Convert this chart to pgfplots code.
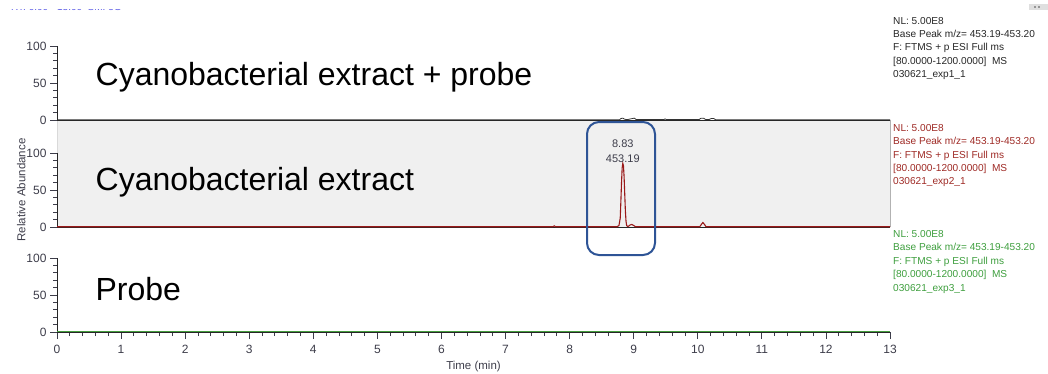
\documentclass[border=0pt]{standalone}
\usepackage{fontspec}
\setmainfont{Liberation Sans}
\usepackage{pgfplots}
\pgfplotsset{compat=1.18}

\definecolor{tickgray}{rgb}{0.24,0.24,0.29}
\definecolor{tracered}{rgb}{0.60,0.10,0.10}
\definecolor{tracegreen}{rgb}{0.27,0.62,0.24}
\definecolor{boxblue}{rgb}{0.18,0.33,0.59}
\definecolor{panelgray}{rgb}{0.941,0.941,0.941}
\definecolor{infored}{rgb}{0.62,0.16,0.14}
\definecolor{infogreen}{rgb}{0.24,0.62,0.24}
\definecolor{rtblue}{rgb}{0.35,0.35,0.90}

% one chromatogram panel: 13 min wide, 0-100 % tall
\pgfplotsset{
  chrom/.style={
    scale only axis, x=64.077pt, y=0.74pt,
    xmin=0, xmax=13, ymin=0, ymax=100,
    axis lines*=left, clip=false,
    anchor=south west,
    ytick={0,50,100}, minor y tick num=4,
    tick align=outside,
    major tick length=7pt, minor tick length=4pt,
    every tick/.style={tickgray, line width=0.8pt},
    axis line style={black!85, line width=0.9pt},
    tick label style={font=\fontsize{12}{12}\selectfont, text=tickgray},
    xticklabel style={yshift=-3pt},
    /pgf/number format/assume math mode=true,
    label style={font=\fontsize{11.5}{12}\selectfont, text=tickgray},
    xlabel style={yshift=-0.5pt},
    ylabel style={yshift=-6pt},
  }
}

% scan header printed at the right of each trace
\newcommand{\infoblock}[3]{%
  \begin{scope}[every node/.style={anchor=base west, inner sep=0pt, text=#1,
      font=\fontsize{10.1}{12}\selectfont}]
    \node at (893pt,#2pt) {NL: 5.00E8};
    \node at (893pt,#2pt-13.35pt) {Base Peak m/z= 453.19-453.20};
    \node at (893pt,#2pt-26.7pt) {F: FTMS + p ESI Full ms};
    \node at (893pt,#2pt-40.05pt) {[80.0000-1200.0000]\ \ MS};
    \node at (893pt,#2pt-53.4pt) {030621\_#3\_1};
  \end{scope}}

\begin{document}
\begin{tikzpicture}
\useasboundingbox (0,0) rectangle (1048pt,373pt);

% header line, mostly cut off at the top edge
\begin{scope}
  \clip (0pt,361.6pt) rectangle (200pt,363.4pt);
  \node[anchor=base west, inner sep=0pt, text=rtblue, font=\fontsize{10}{12}\selectfont]
    at (11pt,362pt) {RT: 0.00 - 13.00 \ SM: 5G};
\end{scope}
\fill[gray!25] (1029pt,363pt) rectangle (1048pt,369pt);
\fill[black!70] (1035pt,366pt) circle (0.8pt) (1039pt,366pt) circle (0.8pt);

% shaded panel behind the extract trace
\fill[panelgray] (57pt,146pt) rectangle (890pt,253pt);
\draw[gray!30, line width=0.8pt] (57pt,146pt) -- (57pt,253pt);
\draw[gray!60, line width=0.8pt] (890pt,146pt) -- (890pt,253pt);

% Probe
\begin{axis}[chrom, at={(57pt,41pt)},
    xtick={0,1,...,13}, minor x tick num=4,
    xlabel={Time (min)}]
  \addplot[tracegreen, line width=1.3pt] coordinates {(0,0.7) (13,0.7)};
  \node[anchor=base west, inner sep=0pt, font=\fontsize{32}{38}\selectfont]
    at (axis cs:0.60,42) {Probe};
\end{axis}

% Cyanobacterial extract
\begin{axis}[chrom, at={(57pt,146pt)}, xtick=\empty,
    ylabel={Relative Abundance}]
  \addplot[tracered, line width=1.1pt] coordinates {
    (0,0.3) (7.74,0.3) (7.76,1.5) (7.78,0.3)
    (8.74,0.3) (8.77,2) (8.79,12) (8.80,35) (8.81,60) (8.82,80)
    (8.83,86) (8.84,83) (8.85,68) (8.86,45) (8.87,22) (8.88,8)
    (8.89,2) (8.91,0.5) (8.94,2.5) (8.97,3.5) (9.00,2) (9.03,0.3)
    (10.03,0.3) (10.06,4) (10.08,6) (10.10,4) (10.13,0.3) (13,0.3)};
  \node[anchor=south, inner sep=0pt, align=center, text=tickgray,
        font=\fontsize{11}{15}\selectfont]
    at (axis cs:8.83,87) {8.83\\453.19};
  \node[anchor=base west, inner sep=0pt, font=\fontsize{32}{38}\selectfont]
    at (axis cs:0.60,49) {Cyanobacterial extract};
\end{axis}

% Cyanobacterial extract + probe
\begin{axis}[chrom, at={(57pt,253pt)}, xtick=\empty]
  \addplot[black!80, line width=0.8pt] coordinates {
    (0,0.3) (8.78,0.3) (8.80,2) (8.83,2.5) (8.86,1) (8.90,0.5)
    (8.98,2) (9.01,2.5) (9.04,0.5) (9.47,0.5) (9.49,1.5) (9.51,0.5)
    (10.02,0.5) (10.05,2.5) (10.09,2.5) (10.12,0.8) (10.18,0.8)
    (10.21,2) (10.25,2) (10.28,0.3) (13,0.3)};
  \node[anchor=base west, inner sep=0pt, font=\fontsize{32}{38}\selectfont]
    at (axis cs:0.60,46) {Cyanobacterial extract + probe};
\end{axis}

% scan headers
\infoblock{black!85}{348.7}{exp1}
\infoblock{infored}{241.7}{exp2}
\infoblock{infogreen}{135.4}{exp3}

% highlighted peak
\draw[boxblue, line width=2pt, rounded corners=12pt]
  (587pt,118pt) rectangle (655pt,251pt);
\end{tikzpicture}
\end{document}
